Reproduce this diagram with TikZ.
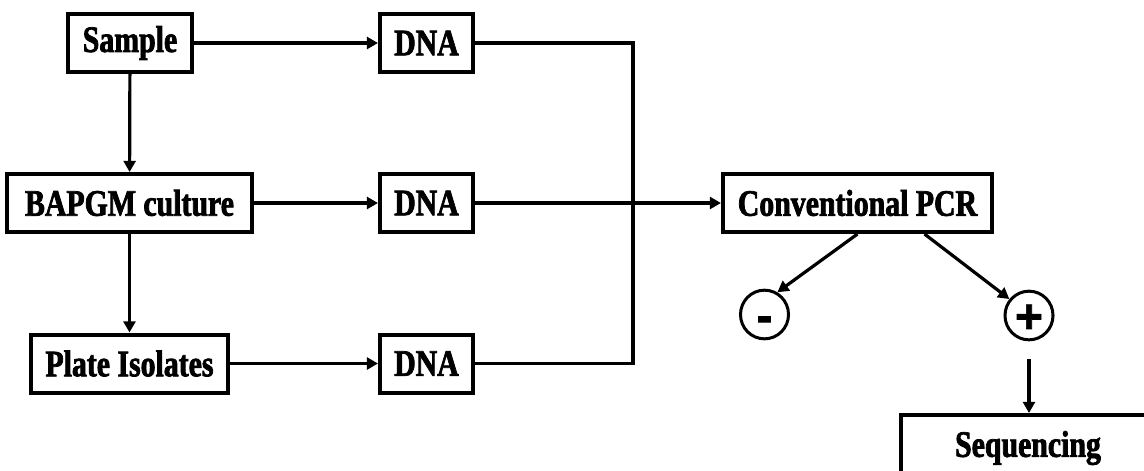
\documentclass[tikz,border=0pt]{standalone}
\usepackage{fontspec}
\setmainfont{Liberation Serif}[FakeStretch=0.8, BoldFeatures={FakeBold=2}]
\newfontfamily\signfont{Liberation Sans}[FakeBold=1.5]
\usepackage{tikz}
\usetikzlibrary{arrows.meta,shapes.geometric}
\tikzset{
    box/.style={draw, line width=0.1cm, inner sep=0pt, minimum height=1.45cm,
            font=\fontsize{26.5}{30}\selectfont\bfseries},
    sign/.style={draw, ellipse, line width=0.075cm, inner sep=0pt,
            minimum width=1.2cm, minimum height=1.03cm,
            text height=0.86cm, text depth=0pt,
            font=\fontsize{34}{36}\selectfont\signfont\bfseries},
    arrow/.style={line width=0.08cm, -{Triangle[length=0.28cm, width=0.3cm]}},
    line/.style={line width=0.08cm},
}

\begin{document}
\begin{tikzpicture}[x=0.025cm, y=-0.025cm]
        \useasboundingbox (0,0) rectangle (1144,470);
        \clip (0,0) rectangle (1144,470);
        %draw boxes
        \node[box, minimum width=3.1cm] (sample) at (130,43) {Sample};
        \node[box, minimum width=6.125cm] (culture) at (129.5,203) {BAPGM culture};
        \node[box, minimum width=4.925cm] (plate) at (129.5,363.5) {Plate Isolates};
        \node[box, minimum width=2.325cm] (dnaa) at (426.5,43) {DNA};
        \node[box, minimum width=2.325cm] (dnab) at (426.5,203) {DNA};
        \node[box, minimum width=2.325cm] (dnac) at (426.5,363.5) {DNA};
        \node[box, minimum width=6.725cm] (pcr) at (857.5,203) {Conventional PCR};
        \node[box, minimum width=6.35cm, minimum height=1.65cm] (seq) at (1028,448) {Sequencing};
        %draw results
        \node[sign] (neg) at (764.5,314.5) {-};
        \node[sign] (pos) at (1029,315.5) {+};
        \coordinate (bus) at (633,203);
        %draw arrows
        \draw[arrow] (sample) -- (culture);
        \draw[arrow] (culture) -- (plate);
        \draw[arrow] (sample) -- (dnaa);
        \draw[arrow] (culture) -- (dnab);
        \draw[arrow] (plate) -- (dnac);
        \draw[line] (dnaa.east) -| (bus) |- (dnac.east);
        \draw[arrow] (dnab.east) -- (pcr.west);
        \draw[arrow] (pcr.south) -- (neg.60);
        \draw[arrow] ([xshift=1.675cm]pcr.south) -- (pos.140);
        \draw[arrow, shorten <=0.45cm] (pos.south) -- (pos.south |- seq.north);
    \end{tikzpicture}
\end{document}
